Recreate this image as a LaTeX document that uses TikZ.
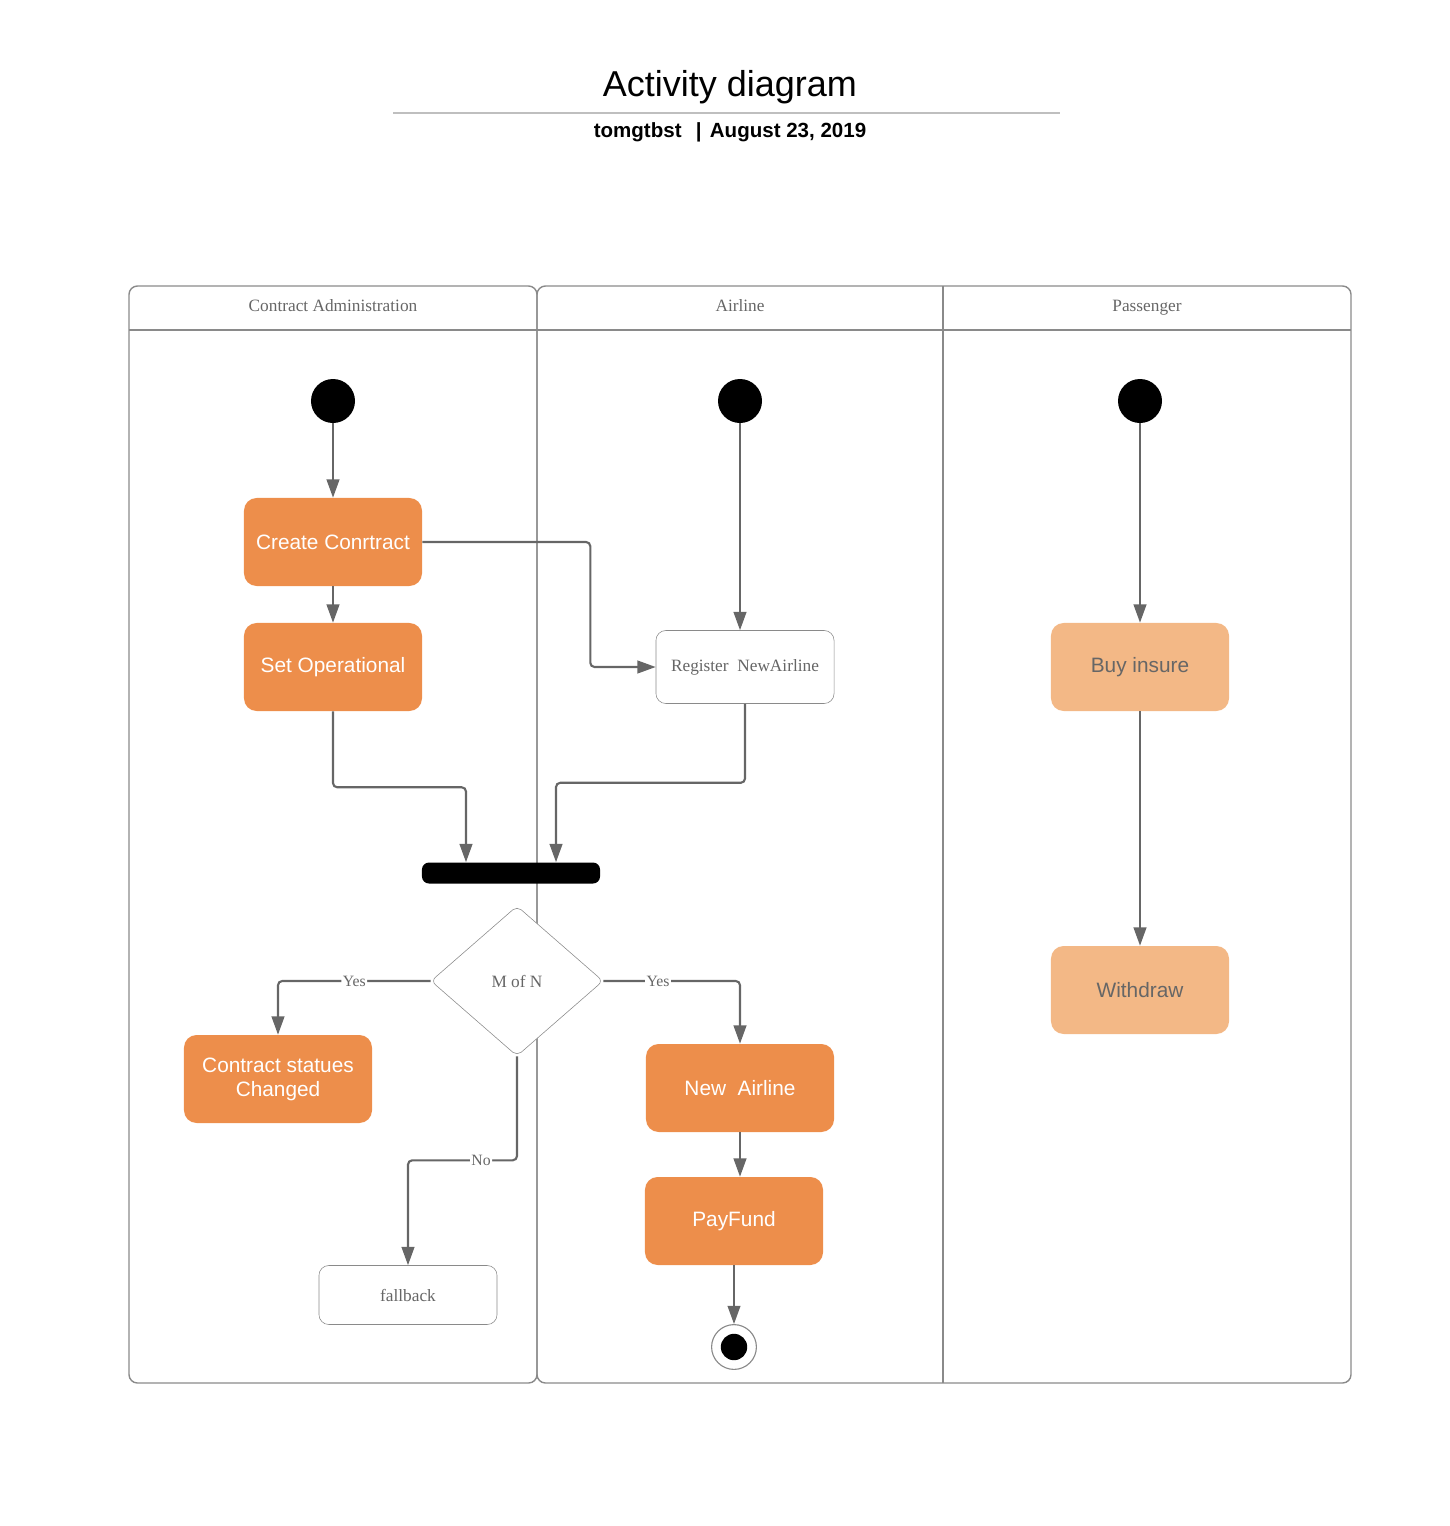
\documentclass[tikz,border=0pt]{standalone}
\usepackage{fontspec}
\setmainfont{Liberation Sans}
\newfontfamily\lanefont{Liberation Serif}
\usetikzlibrary{positioning,shapes.geometric,arrows.meta}
\definecolor{actorange}{HTML}{ED8E4B}
\definecolor{actlight}{HTML}{F3B886}
\definecolor{flowgray}{HTML}{666666}
\definecolor{lanegray}{HTML}{8A8A8A}

\begin{document}
\begin{tikzpicture}[
                x=0.025cm,y=-0.025cm,
                every node/.append style={inner sep=2pt},
                activity/.style={rectangle,rounded corners=9pt,fill=actorange,text=white,
                    minimum width=4.45cm,minimum height=2.2cm,align=center,
                    font=\fontsize{14.8}{17}\selectfont},
                passive/.style={activity,fill=actlight,text=flowgray},
                plainbox/.style={rectangle,rounded corners=7pt,draw=lanegray,fill=white,
                    minimum width=4.45cm,text=flowgray,font=\lanefont\fontsize{12.3}{14}\selectfont},
                startdot/.style={circle,fill=black,minimum size=1.1cm,inner sep=0pt},
                flow/.style={draw=flowgray,line width=1.5pt,rounded corners=3pt,
                    -{Triangle[length=13pt,width=9pt]}},
                guard/.style={fill=white,inner sep=1pt,text=flowgray,
                    font=\lanefont\fontsize{11.2}{12}\selectfont},
                lane/.style={draw=lanegray,line width=1pt}
            ]
                \useasboundingbox (0,0) rectangle (1450,1526);
                % heading
                \node (title) at (730,87) {\fontsize{25.6}{30}\selectfont Activity diagram};
                \draw[color=black!25,line width=1.4pt] (393,113) -- (1060,113);
                \node (byline) at (730,132) {\fontsize{14.6}{17}\selectfont\bfseries tomgtbst\hspace{0.7em}|\hspace{0.4em}August 23, 2019};
                % swimlanes
                \draw[lane,rounded corners=6pt] (129,286) rectangle (537,1383);
                \draw[lane,rounded corners=6pt] (537,286) rectangle (1351,1383);
                \draw[lane] (943,286) -- (943,1383);
                \draw[lane] (129,330) -- (1351,330);
                \foreach \x/\lanename in {333/Contract Administration,740/Airline,1147/Passenger}
                    \node[text=flowgray,text height=8pt,text depth=2.5pt,
                          font=\lanefont\fontsize{12.3}{14}\selectfont] at (\x,308) {\lanename};
                % nodes
                \node (start1)   [startdot] at (333,401) {};
                \node (start2)   [startdot] at (740,401) {};
                \node (start3)   [startdot] at (1140,401) {};
                \node (create)   [activity] at (333,542) {Create Conrtract};
                \node (setop)    [activity] at (333,667) {Set Operational};
                \node (register) [plainbox,minimum height=1.825cm] at (745,667) {Register\ \ NewAirline};
                \node (buy)      [passive] at (1140,667) {Buy insure};
                \node (withdraw) [passive] at (1140,990) {Withdraw};
                \node (bar)      [rectangle,fill=black,rounded corners=5pt,minimum width=4.45cm,minimum height=0.525cm] at (511,873) {};
                \node (mofn)     [diamond,draw=lanegray,fill=white,rounded corners=4pt,aspect=1.15,
                                  minimum width=4.3cm,minimum height=3.75cm,inner sep=0pt,
                                  text=flowgray,font=\lanefont\fontsize{12.3}{14}\selectfont] at (517,981) {M of N};
                \node (statues)  [activity,minimum width=4.7cm] at (278,1079) {Contract statues\\Changed};
                \node (newair)   [activity,minimum width=4.7cm] at (740,1088) {New\ \ Airline};
                \node (payfund)  [activity] at (734,1221) {PayFund};
                \node (fallback) [plainbox,minimum height=1.475cm] at (408,1295) {fallback};
                \node (finish)   [circle,draw=lanegray,fill=white,line width=0.8pt,minimum size=1.12cm] at (734,1347) {};
                \fill (finish) circle (0.33cm);
                % connectors
                \draw[flow] (start1) -- (create);
                \draw[flow] (create) -- (setop);
                \draw[flow] (create.east) -- ++(168,0) |- (register.west);
                \draw[flow] (setop.south) -- ++(0,76) -| ([xshift=-1.125cm]bar.north);
                \draw[flow] (register.south) -- ++(0,79) -| ([xshift=1.125cm]bar.north);
                \draw[flow] (start2) -- (start2 |- register.north);
                \draw[flow] (start3) -- (buy);
                \draw[flow] (buy) -- (withdraw);
                \draw[flow] (mofn.west) -| node[guard,pos=0.25] {Yes} (statues.north);
                \draw[flow] (mofn.east) -| node[guard,pos=0.2] {Yes} (newair.north);
                \draw[flow] (mofn.south) -- ++(0,104) -| node[guard,pos=0.165] {No} (fallback.north);
                \draw[flow] (newair.south) -- (newair.south |- payfund.north);
                \draw[flow] (payfund) -- (finish);
            \end{tikzpicture}
\end{document}
